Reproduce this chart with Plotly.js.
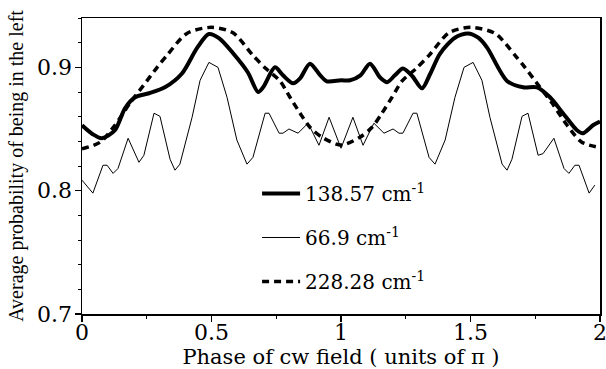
<!DOCTYPE html>
<html>
<head>
<meta charset="utf-8">
<script src="https://cdn.plot.ly/plotly-3.0.1.min.js"></script>
<style>html,body{margin:0;padding:0;background:#fff;}#chart{width:606px;height:369px;}</style>
</head>
<body>
<div id="chart"></div>
<script>
// 138.57 cm^-1 (thick solid)
const xThick = [0, 0.04, 0.077, 0.127, 0.166, 0.205, 0.259, 0.32, 0.386, 0.445, 0.49, 0.53, 0.585, 0.64, 0.68, 0.70, 0.745, 0.776, 0.815, 0.842, 0.88, 0.92, 0.945, 1.0,
  1.035, 1.075, 1.112, 1.15, 1.178, 1.208, 1.239, 1.275, 1.313, 1.345, 1.382, 1.44, 1.49, 1.53, 1.564, 1.641, 1.703, 1.757, 1.807, 1.857, 1.911, 1.934, 1.973, 2.0];
const yThick = [0.853, 0.846, 0.8425, 0.849, 0.8668, 0.8757, 0.879, 0.8838, 0.895, 0.916, 0.927, 0.9235, 0.911, 0.896, 0.880, 0.884, 0.900, 0.8935, 0.887, 0.891, 0.903, 0.8935, 0.8887, 0.8895,
  0.8895, 0.8935, 0.903, 0.892, 0.888, 0.8935, 0.899, 0.893, 0.883, 0.895, 0.911, 0.924, 0.9275, 0.924, 0.916, 0.889, 0.8838, 0.8838, 0.8757, 0.8628, 0.849, 0.8466, 0.853, 0.856];

// 66.9 cm^-1 (thin solid)
const xThin = [0, 0.042, 0.081, 0.097, 0.12, 0.139, 0.178, 0.22, 0.239, 0.278, 0.301, 0.34, 0.359, 0.378, 0.425, 0.456, 0.49, 0.525, 0.56, 0.598, 0.637, 0.66, 0.707, 0.722, 0.761, 0.776, 0.799, 0.834, 0.873, 0.915, 0.954, 1.0,
  1.046, 1.085, 1.127, 1.166, 1.201, 1.224, 1.239, 1.278, 1.293, 1.34, 1.363, 1.402, 1.44, 1.475, 1.51, 1.544, 1.575, 1.622, 1.641, 1.66, 1.699, 1.722, 1.761, 1.78, 1.822, 1.861, 1.88, 1.903, 1.919, 1.958, 1.98];
const yThin = [0.8085, 0.798, 0.8206, 0.8206, 0.814, 0.818, 0.8425, 0.823, 0.8287, 0.8628, 0.8603, 0.8255, 0.8166, 0.8215, 0.8595, 0.8895, 0.904, 0.900, 0.8757, 0.841, 0.8215, 0.827, 0.8628, 0.8628, 0.8466, 0.8466, 0.850, 0.8466, 0.8547, 0.8368, 0.8595, 0.8344,
  0.8595, 0.8368, 0.8547, 0.8466, 0.850, 0.8466, 0.8466, 0.8628, 0.8628, 0.827, 0.8215, 0.841, 0.8757, 0.900, 0.904, 0.8895, 0.8595, 0.8215, 0.8166, 0.8255, 0.8603, 0.8628, 0.8287, 0.830, 0.8425, 0.818, 0.814, 0.8206, 0.8206, 0.798, 0.8045];

// 228.28 cm^-1 (dashed)
const xDash = [0, 0.07, 0.127, 0.185, 0.236, 0.29, 0.328, 0.405, 0.5, 0.583, 0.66, 0.71, 0.764, 0.803, 0.842, 0.88, 0.927, 1.0,
  1.073, 1.12, 1.158, 1.197, 1.236, 1.29, 1.34, 1.417, 1.5, 1.595, 1.672, 1.71, 1.764, 1.815, 1.873, 1.93, 2.0];
const yDash = [0.834, 0.8393, 0.853, 0.871, 0.885, 0.900, 0.9097, 0.9275, 0.9324, 0.928, 0.9097, 0.899, 0.889, 0.8757, 0.8628, 0.8514, 0.8433, 0.837,
  0.8433, 0.8514, 0.8628, 0.8757, 0.889, 0.899, 0.9097, 0.928, 0.9324, 0.9275, 0.9097, 0.900, 0.885, 0.871, 0.853, 0.8393, 0.835];

const names = ['138.57 cm<sup>-1</sup>', '66.9 cm<sup>-1</sup>', '228.28 cm<sup>-1</sup>'];
const xTicks = [0, 0.5, 1, 1.5, 2];
const xTickText = ['0', '0.5', '1', '1.5', '2'];
const yTicks = [0.7, 0.8, 0.9];
const yTickText = ['0.7', '0.8', '0.9'];

const serif = 'DejaVu Serif';
const traces = [
  {x: xThick, y: yThick, name: names[0], legendgroup: 'a', mode: 'lines', line: {color: '#000', width: 4, shape: 'spline', smoothing: 0.8}},
  {x: xThin, y: yThin, name: names[1], legendgroup: 'b', mode: 'lines', line: {color: '#000', width: 1}},
  {x: xDash, y: yDash, name: names[2], legendgroup: 'c', mode: 'lines', line: {color: '#000', width: 3.5, dash: '7px,5px', shape: 'spline', smoothing: 0.8}}
];

const layout = {
  width: 606, height: 369,
  margin: {l: 82, r: 6, t: 18, b: 55},
  paper_bgcolor: '#fff', plot_bgcolor: '#fff',
  showlegend: true,
  legend: {x: 0.338, y: 0.473, xanchor: 'left', yanchor: 'top', bgcolor: 'rgba(0,0,0,0)',
    font: {family: serif, size: 20, color: '#000'}, tracegroupgap: 15, itemwidth: 38, traceorder: 'grouped'},
  xaxis: {
    range: [0, 2], tickvals: xTicks, ticktext: xTickText,
    ticks: 'outside', ticklen: 6, tickwidth: 1.5, tickcolor: '#000',
    minor: {dtick: 0.25, tick0: 0, ticks: 'outside', ticklen: 3, tickwidth: 1, tickcolor: '#000'},
    showline: true, linecolor: '#000', linewidth: 1.5, mirror: true,
    showgrid: false, zeroline: false,
    ticklabeloverflow: 'allow', ticklabelstandoff: -8,
    tickfont: {family: serif, size: 22, color: '#000'},
    title: {text: 'Phase of cw field ( units of π )', font: {family: serif, size: 21, color: '#000'}, standoff: 10}
  },
  yaxis: {
    range: [0.7, 0.94], tickvals: yTicks, ticktext: yTickText,
    ticks: 'outside', ticklen: 6, tickwidth: 1.5, tickcolor: '#000',
    minor: {dtick: 0.02, tick0: 0.7, ticks: 'outside', ticklen: 3, tickwidth: 1, tickcolor: '#000'},
    showline: true, linecolor: '#000', linewidth: 1.5, mirror: true,
    showgrid: false, zeroline: false,
    ticklabelstandoff: -2,
    tickfont: {family: serif, size: 22, color: '#000'},
    title: {text: 'Average probability of being in the left', font: {family: 'Liberation Serif', size: 20, color: '#000'}, standoff: 8}
  }
};

Plotly.newPlot('chart', traces, layout, {displayModeBar: false, staticPlot: true});
</script>
</body>
</html>
